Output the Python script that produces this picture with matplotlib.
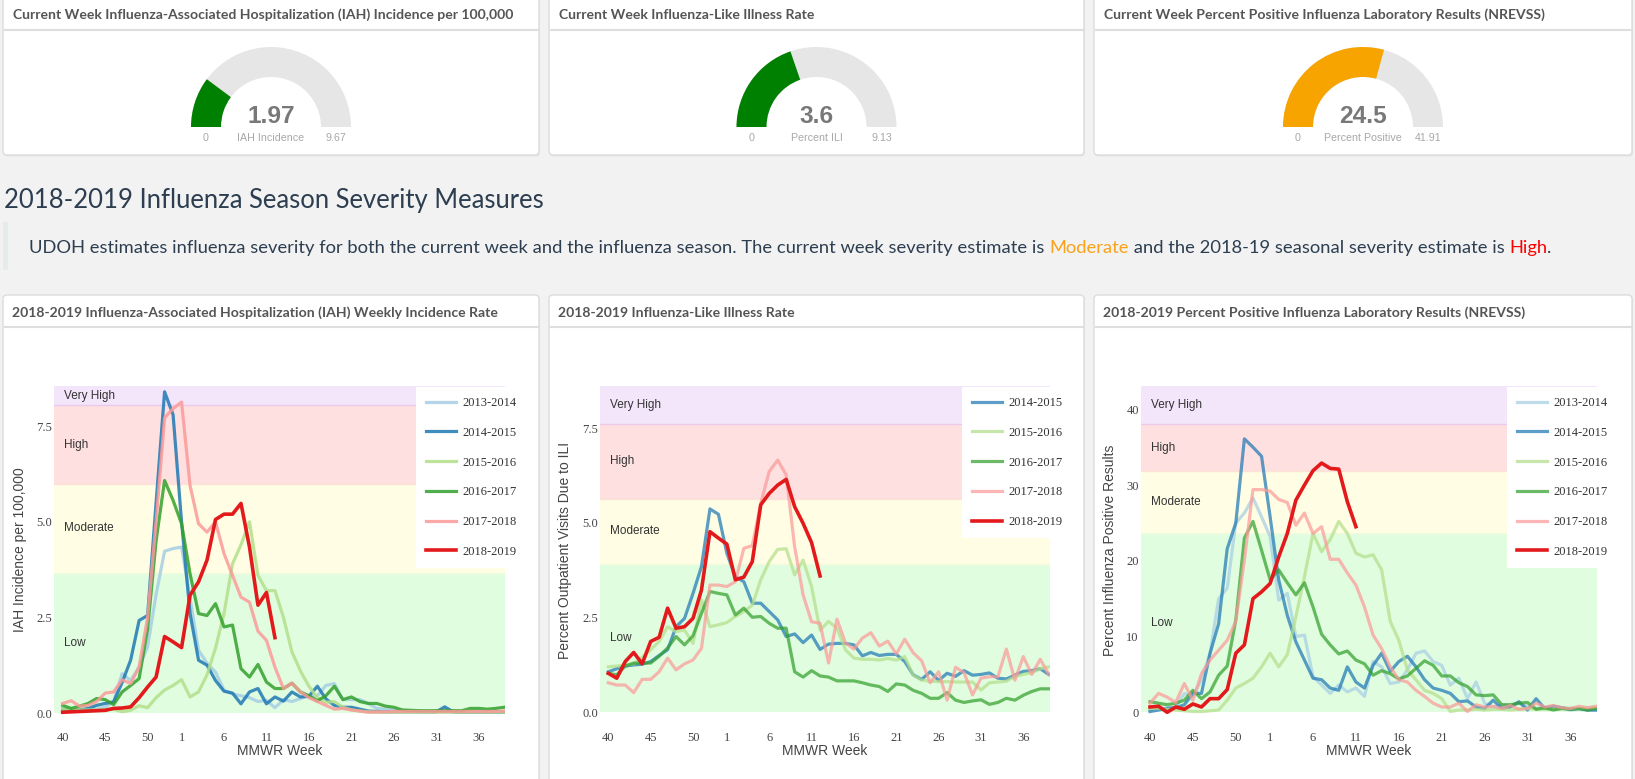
import matplotlib
matplotlib.use('Agg')
import matplotlib.pyplot as plt
from matplotlib.patches import FancyBboxPatch, Wedge, Rectangle
import numpy as np

# ---------------------------------------------------------------- data
weeks = list(range(40, 54)) + list(range(1, 40))
tick_weeks = [40, 45, 50, 1, 6, 11, 16, 21, 26, 31, 36]

seasons = ['2013-2014', '2014-2015', '2015-2016', '2016-2017', '2017-2018', '2018-2019']
season_colors = ['#a6cee3', '#1f78b4', '#b2df8a', '#33a02c', '#fb9a99', '#e31a1c']

band_names = ['Low', 'Moderate', 'High', 'Very High']
band_colors = ['#e1fde0', '#fffee5', '#fee0e1', '#f3e5fa']

# IAH incidence per 100,000
iah_2013_2014 = [0.05, 0.05, 0.06, 0.08, 0.1, 0.15, 0.3, 1.03, 0.85, 1.2, 1.73, 3.1, 4.23, 4.3, 4.34, 3.0,
                 1.64, 1.3, 1.07, 0.6, 0.5, 0.45, 0.4, 0.3, 0.33, 0.14, 0.35, 0.3, 0.38, 0.45, 0.45, 0.72,
                 0.77, 0.35, 0.35, 0.35, 0.25, 0.12, 0.1, 0.08, 0.05, 0.04, 0.04, 0.03, 0.03, 0.03, 0.03,
                 0.03, 0.03, 0.03, 0.03, 0.03, 0.03]
iah_2014_2015 = [0.1, 0.08, 0.08, 0.12, 0.2, 0.25, 0.29, 0.8, 1.38, 2.42, 2.55, 5.5, 8.4, 7.8, 5.0, 2.6,
                 1.38, 1.25, 0.85, 0.57, 0.52, 0.24, 0.55, 0.64, 0.24, 0.42, 0.31, 0.55, 0.42, 0.44, 0.7,
                 0.37, 0.2, 0.15, 0.15, 0.1, 0.05, 0.04, 0.03, 0.03, 0.03, 0.03, 0.03, 0.03, 0.03, 0.16,
                 0.03, 0.02, 0.02, 0.02, 0.02, 0.02, 0.02]
iah_2015_2016 = [0.1, 0.1, 0.08, 0.08, 0.08, 0.08, 0.1, 0.03, 0.07, 0.19, 0.14, 0.4, 0.6, 0.72, 0.87, 0.42,
                 0.55, 1.0, 1.7, 2.6, 3.9, 4.4, 5.0, 3.6, 3.2, 3.2, 2.5, 1.6, 1.1, 0.7, 0.4, 0.28, 0.3,
                 0.15, 0.08, 0.05, 0.03, 0.02, 0.02, 0.02, 0.02, 0.02, 0.02, 0.02, 0.02, 0.02, 0.02, 0.02,
                 0.02, 0.02, 0.02, 0.02, 0.02]
iah_2016_2017 = [0.2, 0.12, 0.18, 0.25, 0.38, 0.35, 0.22, 0.55, 0.72, 0.9, 2.2, 4.5, 6.08, 5.56, 4.95, 3.64,
                 2.6, 2.55, 2.86, 2.25, 2.3, 1.16, 0.94, 1.27, 0.81, 0.64, 0.64, 0.78, 0.55, 0.45, 0.32,
                 0.45, 0.7, 0.35, 0.42, 0.3, 0.25, 0.25, 0.18, 0.15, 0.08, 0.07, 0.06, 0.06, 0.06, 0.06,
                 0.06, 0.06, 0.12, 0.12, 0.1, 0.12, 0.15]
iah_2017_2018 = [0.25, 0.32, 0.18, 0.2, 0.3, 0.52, 0.55, 0.87, 0.77, 1.2, 2.5, 5.0, 7.72, 7.96, 8.13, 5.95,
                 4.95, 4.73, 5.0, 4.17, 3.6, 3.03, 2.9, 2.14, 1.9, 1.2, 0.64, 0.78, 0.55, 0.4, 0.3, 0.2,
                 0.1, 0.12, 0.08, 0.05, 0.02, 0.03, 0.03, 0.04, 0.04, 0.04, 0.04, 0.04, 0.04, 0.04, 0.04,
                 0.04, 0.04, 0.04, 0.04, 0.04, 0.05]
iah_2018_2019 = [0.02, 0.03, 0.04, 0.05, 0.06, 0.07, 0.12, 0.13, 0.16, 0.4, 0.68, 0.94, 2.0, 1.86, 1.71,
                 3.08, 3.43, 4.0, 5.06, 5.2, 5.2, 5.48, 4.34, 2.82, 3.15, 1.97]

# Percent outpatient visits due to ILI
ili_2014_2015 = [1.07, 1.15, 1.22, 1.25, 1.27, 1.34, 1.5, 1.65, 2.26, 2.48, 3.14, 3.85, 5.37, 5.23, 4.2,
                 3.58, 3.45, 2.88, 2.88, 2.66, 2.44, 2.0, 2.07, 1.84, 2.04, 1.66, 1.8, 1.82, 1.82, 1.78,
                 1.49, 1.58, 1.5, 1.53, 1.53, 1.34, 0.99, 0.87, 1.07, 0.84, 1.03, 0.95, 1.1, 0.98, 1.0,
                 1.04, 0.9, 0.88, 0.98, 1.08, 1.1, 1.15, 1.0]
ili_2015_2016 = [1.2, 1.22, 1.25, 1.28, 1.45, 1.65, 1.87, 2.26, 2.13, 2.17, 1.82, 2.97, 2.26, 2.31, 2.37,
                 2.53, 2.66, 2.83, 3.5, 3.98, 4.3, 4.32, 3.63, 4.02, 3.32, 2.17, 2.4, 2.22, 1.65, 1.43,
                 1.4, 1.4, 1.38, 1.42, 1.38, 1.47, 0.98, 0.85, 0.82, 0.81, 0.81, 0.8, 0.8, 0.8, 0.59,
                 0.78, 0.8, 0.82, 0.95, 1.0, 1.05, 1.15, 1.2]
ili_2016_2017 = [1.03, 0.99, 1.22, 1.3, 1.3, 1.3, 1.48, 1.7, 2.0, 1.78, 2.02, 2.61, 3.19, 3.14, 3.1, 2.57,
                 2.75, 2.51, 2.53, 2.35, 2.22, 2.22, 1.07, 0.93, 1.1, 0.96, 0.93, 0.83, 0.83, 0.83, 0.78,
                 0.72, 0.68, 0.55, 0.75, 0.72, 0.58, 0.5, 0.37, 0.37, 0.52, 0.32, 0.26, 0.3, 0.33, 0.21,
                 0.26, 0.37, 0.32, 0.45, 0.55, 0.62, 0.62]
ili_2017_2018 = [0.78, 0.72, 0.72, 0.52, 0.87, 0.87, 1.07, 1.43, 1.12, 1.28, 1.38, 1.69, 3.36, 3.36, 3.32,
                 3.45, 4.33, 4.4, 5.52, 6.36, 6.66, 6.27, 4.37, 3.1, 2.39, 2.35, 1.3, 2.46, 1.83, 1.67,
                 1.96, 2.1, 1.75, 1.88, 1.54, 1.93, 1.57, 1.36, 0.78, 1.07, 0.32, 1.19, 1.05, 0.46, 0.9,
                 0.94, 0.94, 1.67, 0.85, 1.47, 1.0, 1.4, 1.0]
ili_2018_2019 = [1.03, 0.9, 1.34, 1.58, 1.28, 1.87, 1.98, 2.75, 2.22, 2.26, 2.48, 3.23, 4.77, 4.6, 4.44,
                 3.5, 3.57, 3.98, 5.48, 5.78, 6.0, 6.15, 5.43, 4.99, 4.48, 3.6]

# Percent positive influenza laboratory results
pos_2013_2014 = [0.3, 0.4, 0.6, 0.7, 2.5, 2.1, 4.3, 7.8, 15.0, 16.4, 25.0, 26.3, 28.3, 25.8, 23.2, 14.8,
                 15.7, 10.0, 10.2, 4.7, 3.6, 2.5, 3.6, 2.7, 3.2, 2.1, 6.7, 6.0, 3.8, 4.0, 5.6, 7.8, 8.1,
                 6.7, 6.2, 3.6, 4.5, 1.8, 4.0, 1.2, 0.7, 1.0, 0.9, 1.2, 0.8, 0.5, 0.6, 0.4, 0.5, 0.3, 0.4,
                 0.3, 0.3]
pos_2014_2015 = [0.1, 0.3, 0.5, 0.6, 1.0, 2.5, 2.5, 7.8, 11.7, 21.6, 25.0, 36.1, 35.0, 33.8, 25.8, 17.5,
                 12.8, 9.3, 6.9, 4.5, 4.3, 3.2, 2.9, 6.0, 4.0, 3.2, 6.2, 7.8, 5.4, 6.7, 7.4, 6.0, 4.3,
                 3.2, 2.9, 2.5, 1.4, 1.5, 0.7, 0.5, 1.6, 0.5, 0.7, 1.4, 0.3, 1.8, 0.5, 0.8, 0.6, 0.4,
                 0.5, 0.3, 0.3]
pos_2015_2016 = [0.5, 0.5, 0.4, 0.3, 0.2, 0.1, 0.1, 0.2, 0.3, 1.6, 3.2, 3.8, 4.5, 6.0, 7.8, 6.0, 7.6,
                 12.6, 17.9, 23.6, 21.2, 22.8, 25.2, 23.6, 21.0, 20.5, 20.8, 18.8, 12.0, 9.5, 5.6, 4.3,
                 2.9, 2.5, 1.8, 0.1, 0.3, 0.3, 0.4, 0.3, 0.4, 0.4, 0.3, 0.4, 0.5, 0.4, 0.4, 0.4, 0.5,
                 0.5, 0.5, 0.6, 0.6]
pos_2016_2017 = [1.4, 1.2, 1.0, 1.2, 1.6, 2.9, 1.8, 2.7, 4.9, 6.1, 12.2, 23.0, 25.2, 21.4, 17.5, 18.8,
                 17.1, 15.5, 17.1, 13.9, 10.3, 8.9, 7.7, 8.1, 6.9, 6.4, 4.9, 5.5, 5.1, 4.4, 4.8, 5.8, 6.8,
                 6.2, 4.8, 4.8, 3.9, 3.4, 2.3, 2.2, 2.3, 1.0, 1.0, 1.2, 1.3, 0.4, 0.6, 0.3, 0.5, 0.4, 0.5,
                 0.3, 0.5]
pos_2017_2018 = [1.2, 2.5, 2.0, 1.3, 3.8, 1.6, 5.1, 6.9, 8.2, 9.5, 12.0, 20.1, 29.4, 29.4, 29.2, 28.1,
                 27.7, 24.7, 26.3, 23.6, 24.5, 20.2, 20.2, 18.4, 16.8, 13.9, 10.2, 8.4, 6.0, 4.3, 4.0,
                 2.9, 2.1, 1.2, 0.7, 0.7, 1.2, 0.1, 1.0, 0.7, 0.8, 0.5, 0.9, 0.4, 0.5, 1.2, 0.7, 0.9, 0.6,
                 0.5, 0.8, 0.6, 0.8]
pos_2018_2019 = [0.7, 0.8, 0.0, 0.7, 0.4, 1.1, 0.7, 1.8, 1.8, 3.0, 7.8, 8.9, 15.0, 15.9, 17.0, 20.5,
                 23.6, 28.0, 30.0, 31.9, 32.9, 32.2, 32.1, 27.8, 24.5]

# severity thresholds (Low starts at 0)
iah_thresholds = [0.0, 3.67, 5.98, 8.05]
ili_thresholds = [0.0, 3.92, 5.64, 7.61]
pos_thresholds = [0.0, 23.7, 31.8, 38.0]

# current week gauges
gauge_titles = ['Current Week Influenza-Associated Hospitalization (IAH) Incidence per 100,000',
                'Current Week Influenza-Like Illness Rate',
                'Current Week Percent Positive Influenza Laboratory Results (NREVSS)']
gauge_values = [1.97, 3.6, 24.5]
gauge_value_labels = ['1.97', '3.6', '24.5']
gauge_max = [9.67, 9.13, 41.91]
gauge_max_labels = ['9.67', '9.13', '41.91']
gauge_names = ['IAH Incidence', 'Percent ILI', 'Percent Positive']
gauge_colors = ['#008000', '#008000', '#f7a400']

page_title = '2018-2019 Influenza Season Severity Measures'
intro_runs = [('UDOH estimates influenza severity for both the current week and the influenza season. '
               'The current week severity estimate is ', '#2c3e50'),
              ('Moderate', '#f9a21b'),
              (' and the 2018-19 seasonal severity estimate is ', '#2c3e50'),
              ('High', '#ff0000'),
              ('.', '#2c3e50')]

# ---------------------------------------------------------------- figure
W, H = 1635, 779
fig = plt.figure(figsize=(W / 100, H / 100), dpi=100)
fig.patch.set_facecolor('#f2f2f2')
ov = fig.add_axes([0, 0, 1, 1])
ov.set_xlim(0, W)
ov.set_ylim(H, 0)
ov.axis('off')
ov.set_zorder(0)
renderer = fig.canvas.get_renderer()

LATO = ['Lato', 'DejaVu Sans']
SANS = ['Liberation Sans', 'DejaVu Sans']
SERIF = ['Liberation Serif', 'DejaVu Serif']


def text_width(s, **kw):
    t = ov.text(0, 0, s, **kw)
    w = t.get_window_extent(renderer).width
    t.remove()
    return w


def fitted_size(s, target, **kw):
    return 10.0 * target / text_width(s, fontsize=10.0, **kw)


def panel(x0, y0, x1, y1, sep_y):
    ov.add_patch(FancyBboxPatch((x0 + 1, y0 + 1.5), x1 - x0, y1 - y0,
                                boxstyle='round,pad=0,rounding_size=4',
                                facecolor='#e4e4e4', edgecolor='none', zorder=0.5))
    ov.add_patch(FancyBboxPatch((x0, y0), x1 - x0, y1 - y0,
                                boxstyle='round,pad=0,rounding_size=4',
                                facecolor='white', edgecolor='#dcdcdc', lw=1.0, zorder=1))
    ov.plot([x0 + 0.5, x1 - 0.5], [sep_y, sep_y], color='#dedede', lw=1.5, zorder=2,
            solid_capstyle='butt')


panel_x = [(3, 539), (549, 1084), (1094, 1632)]
head_fs = fitted_size(gauge_titles[0], 500, family=LATO, weight='bold')

# ---------------------------------------------------------------- gauges
val_fs = fitted_size('1.97', 48, family=SANS, weight='bold')
lab_fs = fitted_size('Percent Positive', 77, family=SANS)
for i, (px0, px1) in enumerate(panel_x):
    panel(px0, -4, px1, 155, 29.5)
    ov.text(px0 + 10, 15, gauge_titles[i], family=LATO, weight='bold', fontsize=head_fs,
            color='#555555', va='center', ha='left', zorder=3)
    cx, cy = (px0 + px1) / 2.0, 127.0
    frac = gauge_values[i] / gauge_max[i]
    ov.add_patch(Wedge((cx, cy), 80, 180, 360, width=30, facecolor='#e6e6e6',
                       edgecolor='none', zorder=3))
    ov.add_patch(Wedge((cx, cy), 80, 180, 180 + 180 * frac, width=30,
                       facecolor=gauge_colors[i], edgecolor='none', zorder=4))
    ov.text(cx, 116, gauge_value_labels[i], family=SANS, weight='bold', fontsize=val_fs,
            color='#787878', ha='center', va='center', zorder=5)
    ov.text(cx - 65, 138, '0', family=SANS, fontsize=lab_fs, color='#a8a8a8',
            ha='center', va='center', zorder=5)
    ov.text(cx, 138, gauge_names[i], family=SANS, fontsize=lab_fs, color='#a8a8a8',
            ha='center', va='center', zorder=5)
    ov.text(cx + 65, 138, gauge_max_labels[i], family=SANS, fontsize=lab_fs, color='#a8a8a8',
            ha='center', va='center', zorder=5)

# ---------------------------------------------------------------- page text
title_fs = fitted_size(page_title, 538, family=LATO)
ov.text(4, 200, page_title, family=LATO, fontsize=title_fs, color='#2c3e50',
        ha='left', va='center')
ov.add_patch(Rectangle((3, 222), 5, 48, facecolor='#e6ebeb', edgecolor='none'))

full_intro = ''.join(r[0] for r in intro_runs)
intro_fs = fitted_size(full_intro, 1523, family=LATO)
prefix = ''
for s, c in intro_runs:
    if prefix:
        off = (text_width(prefix + s[0], family=LATO, fontsize=intro_fs)
               - text_width(s[0], family=LATO, fontsize=intro_fs))
    else:
        off = 0.0
    ov.text(29 + off, 248, s, family=LATO, fontsize=intro_fs, color=c, ha='left', va='center')
    prefix += s

# ---------------------------------------------------------------- charts
chart_titles = ['2018-2019 Influenza-Associated Hospitalization (IAH) Weekly Incidence Rate',
                '2018-2019 Influenza-Like Illness Rate',
                '2018-2019 Percent Positive Influenza Laboratory Results (NREVSS)']
chart_ylabels = ['IAH Incidence per 100,000', 'Percent Outpatient Visits Due to ILI',
                 'Percent Influenza Positive Results']
chart_series = [
    (seasons, [iah_2013_2014, iah_2014_2015, iah_2015_2016, iah_2016_2017, iah_2017_2018, iah_2018_2019]),
    (seasons[1:], [ili_2014_2015, ili_2015_2016, ili_2016_2017, ili_2017_2018, ili_2018_2019]),
    (seasons, [pos_2013_2014, pos_2014_2015, pos_2015_2016, pos_2016_2017, pos_2017_2018, pos_2018_2019]),
]
chart_thresholds = [iah_thresholds, ili_thresholds, pos_thresholds]
chart_yticks = [[0, 2.5, 5.0, 7.5], [0, 2.5, 5.0, 7.5], [0, 10, 20, 30, 40]]
chart_yfmt = ['{:.1f}', '{:.1f}', '{:.0f}']

# layout (pixels)
geo = [dict(left=54, right=505, x0=62.7, step=8.49, y0=713.0, ppu=38.24, leg=(416, 387), ylx=20, alpha=0.85),
       dict(left=600, right=1050, x0=608.3, step=8.47, y0=712.3, ppu=37.87, leg=(962, 387), ylx=565, alpha=0.72),
       dict(left=1141, right=1597, x0=1150.0, step=8.58, y0=712.3, ppu=7.575, leg=(1507, 387), ylx=1110, alpha=0.72)]
TOP, BOT = 386, 725

axis_fs = fitted_size(chart_ylabels[1], 217, family=SANS)
tick_pos = [weeks.index(w) for w in tick_weeks]
tick_lab = [str(w) for w in tick_weeks]

for k in range(3):
    g = geo[k]
    px0, px1 = panel_x[k]
    panel(px0, 295, px1, 795, 326.5)
    ov.text(px0 + 9, 313, chart_titles[k], family=LATO, weight='bold', fontsize=head_fs,
            color='#555555', va='center', ha='left', zorder=3)

    ax = fig.add_axes([g['left'] / W, 1 - BOT / H, (g['right'] - g['left']) / W, (BOT - TOP) / H])
    ax.set_zorder(2)
    ax.patch.set_visible(False)
    xlo = (g['left'] - g['x0']) / g['step']
    xhi = (g['right'] - g['x0']) / g['step']
    ylo = (g['y0'] - BOT) / g['ppu']
    yhi = (g['y0'] - TOP) / g['ppu']
    ax.set_xlim(xlo, xhi)
    ax.set_ylim(ylo, yhi)

    edges = chart_thresholds[k] + [yhi]
    for b in range(4):
        ax.axhspan(edges[b], edges[b + 1], facecolor=band_colors[b], edgecolor='none', zorder=0)
        ax.text(xlo + 10 / g['step'], (edges[b] + edges[b + 1]) / 2, band_names[b], family=SANS,
                fontsize=8.5, color='#333333', ha='left', va='center', zorder=1)
    for b, c in zip(range(1, 4), ['#f3fadc', '#fde3d6', '#ecc9eb']):
        ax.axhline(edges[b], color=c, lw=1.0, zorder=0.5)

    labels, data = chart_series[k]
    handles = []
    for lab, vals in zip(labels, data):
        col = season_colors[seasons.index(lab)]
        cur = lab == '2018-2019'
        ln, = ax.plot(np.arange(len(vals)), vals, color=col, lw=2.6 if cur else 2.3,
                      alpha=1.0 if cur else g['alpha'], label=lab, zorder=3 if cur else 2)
        handles.append(ln)

    ax.set_xticks(tick_pos, tick_lab, fontfamily=SERIF)
    yt = chart_yticks[k]
    ax.set_yticks(yt, [chart_yfmt[k].format(v) for v in yt], fontfamily=SERIF)
    ax.tick_params(axis='both', length=0, labelsize=9, colors='#444444')
    ax.tick_params(axis='x', pad=5)
    ax.tick_params(axis='y', pad=1.5)
    for s in ax.spines.values():
        s.set_visible(False)

    ax.set_xlabel('MMWR Week', family=SANS, fontsize=axis_fs, color='#444444')
    ax.xaxis.set_label_coords(0.5, (BOT - 751) / (BOT - TOP))
    ax.xaxis.label.set_verticalalignment('center')
    ax.set_ylabel(chart_ylabels[k], family=SANS, fontsize=axis_fs, color='#444444')
    ax.yaxis.set_label_coords((g['ylx'] - g['left']) / (g['right'] - g['left']), (BOT - 550) / (BOT - TOP))
    ax.yaxis.label.set_verticalalignment('center')

    lx, ly = g['leg']
    leg = ax.legend(handles=handles, loc='upper left', bbox_to_anchor=(lx / W, 1 - ly / H),
                    bbox_transform=fig.transFigure, frameon=True, fancybox=False, framealpha=1,
                    facecolor='white', edgecolor='white', prop=dict(family=SERIF, size=9),
                    handlelength=2.4, handletextpad=0.5, labelspacing=1.42, borderpad=0.8,
                    borderaxespad=0)
    leg.get_frame().set_linewidth(0)
    leg.set_zorder(6)
    for t in leg.get_texts():
        t.set_color('#333333')

fig.savefig('out.png', dpi=100, facecolor=fig.get_facecolor())
